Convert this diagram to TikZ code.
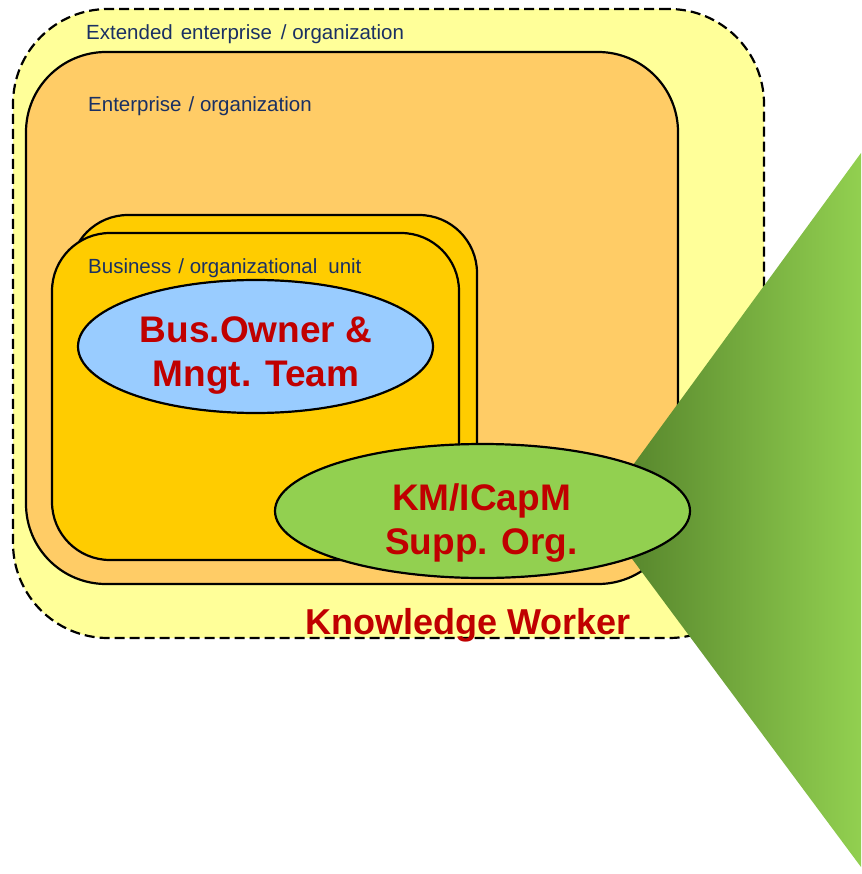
\documentclass[tikz,border=0pt]{standalone}
\usepackage{fontspec}
\setmainfont{Liberation Sans}
\usetikzlibrary{shapes.geometric}

\definecolor{extfill}{HTML}{FFFF99}
\definecolor{entfill}{HTML}{FFCC66}
\definecolor{unitfill}{HTML}{FFCC00}
\definecolor{ownerfill}{HTML}{99CCFF}
\definecolor{kmfill}{HTML}{92D050}
\definecolor{kmdark}{RGB}{80,125,40}
\definecolor{labelblue}{RGB}{26,48,99}
\definecolor{titlered}{HTML}{C00000}

\begin{document}
\begin{tikzpicture}[x=1pt, y=-1pt,
  box/.style={draw=black, line width=2.2pt, anchor=north west, inner sep=0pt, outer sep=0pt},
  oval/.style={ellipse, draw=black, line width=2.2pt, inner sep=0pt, outer sep=0pt},
  smalltext/.style={anchor=base west, inner sep=0pt, text=labelblue,
    font=\fontsize{20.5}{23}\selectfont},
  bigtext/.style={anchor=base, inner sep=0pt, text=titlered, align=center,
    font=\bfseries\fontsize{37}{44}\selectfont}]
\useasboundingbox (0,0) rectangle (861,874);

% nested organisational scopes
\node[box, dash pattern=on 10pt off 5pt, fill=extfill, rounded corners=95pt,
      minimum width=751pt, minimum height=629pt] (ext) at (13,9) {};
\node[box, fill=entfill, rounded corners=80pt,
      minimum width=652pt, minimum height=532pt] (ent) at (26,52) {};
\node[box, fill=unitfill, rounded corners=58pt,
      minimum width=407pt, minimum height=327pt] (unitback) at (70,215) {};
\node[box, fill=unitfill, rounded corners=58pt,
      minimum width=407pt, minimum height=327pt] (unit) at (52,233) {};

% scope labels
\node[smalltext] (extlabel) at (86,40)
  {Extended\hspace{8pt}enterprise\hspace{9pt}/ organization};
\node[smalltext] (entlabel) at (88,112)
  {Enterprise\hspace{7pt}/ organization};
\node[smalltext] (unitlabel) at (88,273)
  {Business\hspace{7pt}/ organizational\hspace{11pt}unit};

% business owner (multi-line text is anchored on its last baseline)
\node[oval, fill=ownerfill, minimum width=355pt, minimum height=133pt] (owner) at (255.5,346.5) {};
\node[bigtext] (ownertext) at (256,386.7) {Bus.Owner \&\\Mngt. Team};

% knowledge worker wedge
\shade[left color=kmdark, right color=kmfill] (598,513) -- (861,153) -- (861,867) -- cycle;

% support organisation
\node[oval, fill=kmfill, minimum width=415pt, minimum height=134pt] (km) at (482.5,511) {};
\node[bigtext] (kmtext) at (481.5,554) {KM/ICapM\\Supp. Org.};

\node[bigtext, font=\bfseries\fontsize{36}{44}\selectfont] (worker) at (468,634) {Knowledge Worker};
\end{tikzpicture}
\end{document}
